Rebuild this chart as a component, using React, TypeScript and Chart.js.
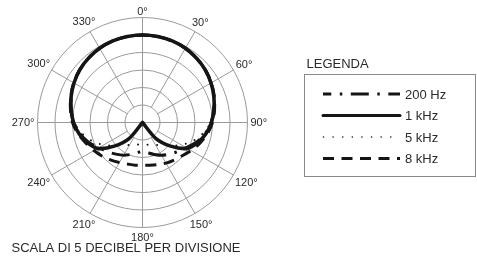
import React, { useEffect, useRef } from 'react';
import { Chart, registerables } from 'chart.js';

Chart.register(...registerables);

// ---- data ----
const ANGLES = [0, 10, 20, 30, 40, 50, 60, 70, 80, 90, 100, 110, 120, 130, 140, 150, 160, 170,
  180, 190, 200, 210, 220, 230, 240, 250, 260, 270, 280, 290, 300, 310, 320, 330, 340, 350];
const ANGLE_TICKS = [0, 30, 60, 90, 120, 150, 180, 210, 240, 270, 300, 330];
const SERIES_NAMES = ['200 Hz', '1 kHz', '5 kHz', '8 kHz'];
const DB_MIN = -30;
const DB_MAX = 0;
const DB_STEP = 5;

const HZ_200 = [-5, -5.05, -5.2, -5.5, -6.0, -6.6, -7.4, -8.3, -9.3, -10.4, -11.8, -13.6, -15.6, -17.0, -18.2, -19.2, -20.3, -21.2,
  -21.8, -21.2, -20.3, -19.2, -18.2, -17.0, -15.6, -13.6, -11.8, -10.4, -9.3, -8.3, -7.4, -6.6, -6.0, -5.5, -5.2, -5.05];
const KHZ_1 = [-5, -5.05, -5.2, -5.5, -6.0, -6.6, -7.4, -8.3, -9.3, -10.3, -11.6, -13.2, -15.2, -19.5, -24, -30, -30, -30,
  -30, -30, -30, -30, -24, -19.5, -15.2, -13.2, -11.6, -10.3, -9.3, -8.3, -7.4, -6.6, -6.0, -5.5, -5.2, -5.05];
const KHZ_5 = [-5, -5.05, -5.2, -5.5, -6.0, -6.6, -7.4, -8.3, -9.3, -10.5, -12.4, -14.6, -17.2, -19.8, -21.6, -22.6, -23.2, -23.6,
  -23.8, -23.6, -23.2, -22.6, -21.6, -19.8, -17.2, -14.6, -12.4, -10.5, -9.3, -8.3, -7.4, -6.6, -6.0, -5.5, -5.2, -5.05];
const KHZ_8 = [-5, -5.05, -5.2, -5.5, -6.0, -6.6, -7.3, -8.2, -9.1, -10.0, -11.2, -12.6, -14.0, -15.2, -16.0, -16.6, -17.2, -17.6,
  -17.8, -17.6, -17.4, -16.8, -16.0, -15.0, -14.0, -12.8, -11.3, -10.0, -9.1, -8.2, -7.3, -6.6, -6.0, -5.5, -5.2, -5.05];

const LEGEND_TITLE = 'LEGENDA';
const CAPTION = 'SCALA DI 5 DECIBEL PER DIVISIONE';

// ---- styles ----
const FONT = '"Liberation Sans", Arial, Helvetica, sans-serif';
const TEXT_COLOR = '#2a2a2a';
const GRID_COLOR = '#9a9a9a';
const LINE_COLOR = '#151515';

const overlay = {
  id: 'overlay',
  afterLayout(chart: any) {
    const s = chart.scales.r;
    s.xCenter += 0.5;
    s.yCenter += 0.5;
  },
  beforeDatasetsDraw(chart: any) {
    const ctx = chart.ctx;
    const s = chart.scales.r;
    const R = s.drawingArea;
    ctx.save();
    ctx.strokeStyle = GRID_COLOR;
    ctx.lineWidth = 1;
    ANGLE_TICKS.forEach((a) => {
      const idx = ANGLES.indexOf(a);
      const start = a % 90 === 0 ? 0 : s.getDistanceFromCenterForValue(DB_MIN + DB_STEP);
      const p1 = s.getPointPosition(idx, start);
      const p2 = s.getPointPosition(idx, R);
      ctx.beginPath();
      ctx.moveTo(p1.x, p1.y);
      ctx.lineTo(p2.x, p2.y);
      ctx.stroke();
    });
    ctx.restore();
  },
  afterDraw(chart: any) {
    const ctx = chart.ctx;
    const s = chart.scales.r;
    const R = s.drawingArea;
    ctx.save();
    // angle labels
    ctx.fillStyle = TEXT_COLOR;
    ctx.font = `11px ${FONT}`;
    ctx.textAlign = 'center';
    ctx.textBaseline = 'alphabetic';
    const capH = 7.9;
    ANGLE_TICKS.forEach((a) => {
      const idx = ANGLES.indexOf(a);
      const text = `${a}°`;
      const w = ctx.measureText(text).width;
      const th = (a * Math.PI) / 180;
      const sn = Math.abs(Math.sin(th));
      const cs = Math.cos(th);
      const d = R + 3 + (sn * w) / 2 + (Math.abs(cs) * capH) / 2 + (cs < -0.9 ? 2.5 : 0);
      const p = s.getPointPosition(idx, d);
      ctx.fillText(text, p.x, p.y + capH / 2);
    });

    // caption
    ctx.textAlign = 'left';
    ctx.font = `13px ${FONT}`;
    ctx.fillText(CAPTION, 11.5, 252);

    // legend
    ctx.fillText(LEGEND_TITLE, 306.5, 67.5);
    ctx.strokeStyle = '#8a8a8a';
    ctx.lineWidth = 1;
    ctx.strokeRect(304.5, 74.5, 171, 102);

    const x0 = 323;
    const x1 = 400;
    chart.data.datasets.forEach((ds: any, i: number) => {
      const y = 94 + i * 21.5;
      ctx.save();
      ctx.strokeStyle = ds.borderColor;
      ctx.lineWidth = ds.legendWidth;
      ctx.lineCap = ds.borderCapStyle || 'butt';
      ctx.setLineDash(ds.borderDash || []);
      ctx.lineDashOffset = ds.legendDashOffset || 0;
      ctx.beginPath();
      ctx.moveTo(x0, y);
      ctx.lineTo(x1, y);
      ctx.stroke();
      ctx.restore();
      ctx.fillStyle = TEXT_COLOR;
      ctx.font = `13px ${FONT}`;
      ctx.fillText(SERIES_NAMES[i], 405, y + 4.7);
    });
    ctx.restore();
  },
};

export default function App() {
  const ref = useRef<HTMLCanvasElement>(null);
  useEffect(() => {
    const canvas = ref.current!;
    const chart = new Chart(canvas, {
      type: 'radar',
      data: {
        labels: ANGLES.map((a) => `${a}°`),
        datasets: [
          {
            label: SERIES_NAMES[0], data: HZ_200, order: 1,
            borderColor: LINE_COLOR, borderWidth: 3, borderDash: [18, 8.5, 2.5, 8.5],
            legendWidth: 3, legendDashOffset: 9.7, fill: false,
          },
          {
            label: SERIES_NAMES[1], data: KHZ_1, order: 0,
            borderColor: LINE_COLOR, borderWidth: 3.6, borderCapStyle: 'round', borderJoinStyle: 'round',
            legendWidth: 3, fill: false,
          },
          {
            label: SERIES_NAMES[2], data: KHZ_5, order: 1,
            borderColor: LINE_COLOR, borderWidth: 2, borderCapStyle: 'round', borderDash: [0.01, 9.6],
            legendWidth: 1.6, legendDashOffset: -0.5, fill: false,
          },
          {
            label: SERIES_NAMES[3], data: KHZ_8, order: 1,
            borderColor: LINE_COLOR, borderWidth: 3, borderDash: [11, 7.5],
            legendWidth: 3, fill: false,
          },
        ] as any,
      },
      options: {
        responsive: false,
        animation: false,
        devicePixelRatio: 1,
        layout: { padding: { left: 37, top: 17, right: 230, bottom: 39 } },
        plugins: {
          legend: { display: false },
          tooltip: { enabled: false },
          title: { display: false },
        },
        elements: {
          point: { radius: 0, hoverRadius: 0 },
          line: { tension: 0.3 },
        },
        scales: {
          r: {
            min: DB_MIN,
            max: DB_MAX,
            ticks: { stepSize: DB_STEP, display: false },
            grid: {
              circular: true,
              lineWidth: 1,
              color: (c: any) => (c.index === 0 ? 'rgba(0,0,0,0)' : GRID_COLOR),
            },
            angleLines: { display: false },
            pointLabels: { display: false },
          },
        },
      } as any,
      plugins: [overlay],
    });
    return () => chart.destroy();
  }, []);

  return (
    <div style={{ position: 'absolute', left: 0, top: 0, width: 477, height: 266, background: '#fff' }}>
      <canvas ref={ref} width={477} height={266} style={{ display: 'block', width: 477, height: 266 }} />
    </div>
  );
}
